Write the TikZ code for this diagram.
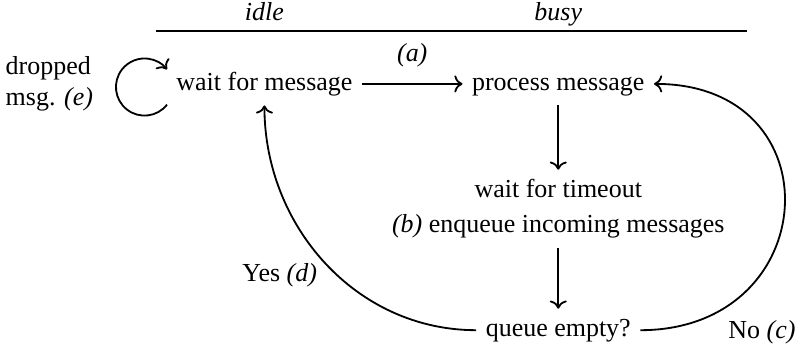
\documentclass[tikz,border=0pt]{standalone}
\usepackage{fontspec}
\setmainfont{Liberation Serif}
\usetikzlibrary{positioning, arrows.meta}
\usetikzlibrary{calc}

\begin{document}
\begin{tikzpicture}[>=To,
    node distance=1cm,
    every path/.style={line width=0.7pt},
    state/.style={text height=7pt, text depth=2.2pt}
]
\useasboundingbox (-101.8pt,-102pt) rectangle (205.8pt,32.3pt);

% States
\node (wait) [state] {wait for message};
\node (process) [state, right=1.36cm of wait] {process message};
\node (timeout) [align=center, below=0.87cm of process] {wait for timeout\\[1.6pt]\textit{(b)} enqueue incoming messages};
\node (queue) [state, below=0.82cm of timeout] {queue empty?};

% Header above the states
\node (idle) [above=0.43cm of wait] {\textit{idle}};
\node (busy) [anchor=base] at (idle.base -| process) {\textit{busy}};
\draw ($(wait.west |- idle.south)+(-4pt,0)$) -- ($(process.east |- idle.south)+(35.6pt,0)$);

% Dropped messages
\node (dropped) [align=left, left=0.87cm of wait] {dropped\\msg. \textit{(e)}};
\coordinate (loopc) at ($(wait.west)+(-8.6pt,-1.2pt)$);
\draw[->] ($(loopc)+(-38:11pt)$) arc[start angle=-38, end angle=-322, radius=11pt];

% Connection arrows
\draw[->] (wait) -- node[above=3pt] {\textit{(a)}} (process);
\draw[->] (process) -- (timeout);
\draw[->] (timeout) -- (queue);
\draw[->] (queue) to[out=180, in=-90] node[pos=0.45, left=4pt] {Yes \textit{(d)}} (wait);
\draw[->] (queue) to[out=0, in=0, looseness=1.9] node[pos=0.17, anchor=north west] {No \textit{(c)}} (process);

\end{tikzpicture}
\end{document}
